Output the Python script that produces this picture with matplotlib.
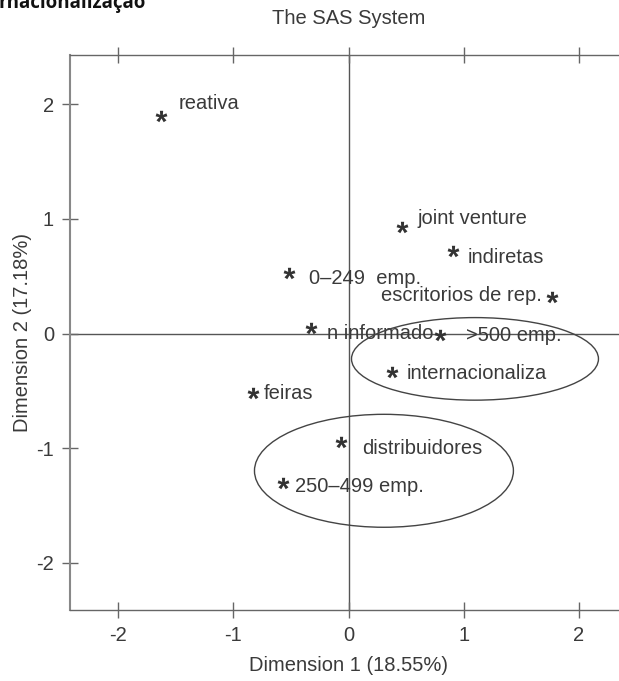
import matplotlib
matplotlib.use("Agg")
import numpy as np
import matplotlib.pyplot as plt
from matplotlib.patches import Ellipse
from matplotlib.textpath import TextPath
from matplotlib.font_manager import FontProperties
from matplotlib.markers import MarkerStyle
from matplotlib.path import Path

# Correspondence analysis coordinates
categories = ["reativa", "joint venture", "indiretas", "0\u2013249  emp.",
              "escritorios de rep.", "n informado", ">500 emp.",
              "internacionaliza", "feiras", "distribuidores", "250\u2013499 emp."]
dim1 = [-1.625, 0.469, 0.904, -0.521, 1.772, -0.330, 0.799, 0.374, -0.834, -0.061, -0.573]
dim2 = [1.90, 0.927, 0.718, 0.526, 0.316, 0.046, -0.015, -0.337, -0.521, -0.948, -1.305]

# Label offsets in pixels (dx, dy) and horizontal alignment
label_dx = [17, 15, 15, 20, -11, 16, 26, 15, 11, 21, 12]
label_dy = [12, 9, -6, -5, 2, -5, 0, -1, 0, -6, -3]
label_ha = ["left", "left", "left", "left", "right", "left", "left", "left", "left", "left", "left"]

# Group ellipses: center x, center y, width, height
ell_cx = [1.099, 0.308]
ell_cy = [-0.22, -1.196]
ell_w = [2.146, 2.25]
ell_h = [0.72, 0.985]

xticks = [-2, -1, 0, 1, 2]
yticks = [-2, -1, 0, 1, 2]

FONT = "Liberation Sans"
TXT = "#3a3a3a"
LINE = "#555555"

fig = plt.figure(figsize=(6.19, 6.81), dpi=100)
ax = fig.add_axes([70 / 619, 71 / 681, 557 / 619, 555 / 681])
ax.set_xlim(-2.42, 2.42)
ax.set_ylim(-2.41, 2.43)

# asterisk marker built from the bold font glyph outline
tp = TextPath((0, 0), "*", prop=FontProperties(family=FONT, weight="bold"), size=10)
polys = tp.to_polygons()
allpts = np.vstack(polys)
center = (allpts.min(axis=0) + allpts.max(axis=0)) / 2
star_path = Path.make_compound_path(*[Path(p - center, closed=True) for p in polys])
star = MarkerStyle(star_path)

ax.axhline(0, color=LINE, lw=1.0, zorder=1)
ax.axvline(0, color=LINE, lw=1.0, zorder=1)

ax.scatter(dim1, dim2, marker=star, s=8.5 ** 2, color="#333333", linewidths=0, zorder=3)

for name, x, y, dx, dy, ha in zip(categories, dim1, dim2, label_dx, label_dy, label_ha):
    ax.annotate(name, (x, y), xytext=(dx, dy), textcoords="offset pixels",
                ha=ha, va="center", fontsize=14.5, family=FONT, color=TXT, zorder=2)

for cx, cy, w, h in zip(ell_cx, ell_cy, ell_w, ell_h):
    ax.add_patch(Ellipse((cx, cy), w, h, fill=False, edgecolor="#444444", lw=1.0, zorder=2))

ax.set_xticks(xticks)
ax.set_yticks(yticks)
ax.set_xticklabels([str(t) for t in xticks])
ax.set_yticklabels([str(t) for t in yticks])
ax.tick_params(direction="inout", length=11, width=1.0, color="#666666",
               top=True, labeltop=False, right=False,
               labelsize=14.5, labelcolor=TXT, pad=6)
for lab in ax.get_xticklabels() + ax.get_yticklabels():
    lab.set_family(FONT)

for side in ["top", "bottom"]:
    ax.spines[side].set_color("#666666")
    ax.spines[side].set_linewidth(1.0)
ax.spines["left"].set_color("#888888")
ax.spines["left"].set_linewidth(1.5)
ax.spines["right"].set_visible(False)

ax.set_xlabel("Dimension 1 (18.55%)", fontsize=14.5, family=FONT, color=TXT, labelpad=8)
ax.set_ylabel("Dimension 2 (17.18%)", fontsize=14.5, family=FONT, color=TXT, labelpad=3)

fig.text(349 / 619, 1 - 18 / 681, "The SAS System", ha="center", va="center",
         fontsize=14.5, family=FONT, color=TXT)
fig.text(-2 / 619, 1 - 8 / 681, "rnacionaliza\u00e7\u00e3o", ha="left", va="baseline",
         fontsize=13.5, family="Open Sans", weight="bold", color="#111111")

fig.savefig("out.png", dpi=100)
